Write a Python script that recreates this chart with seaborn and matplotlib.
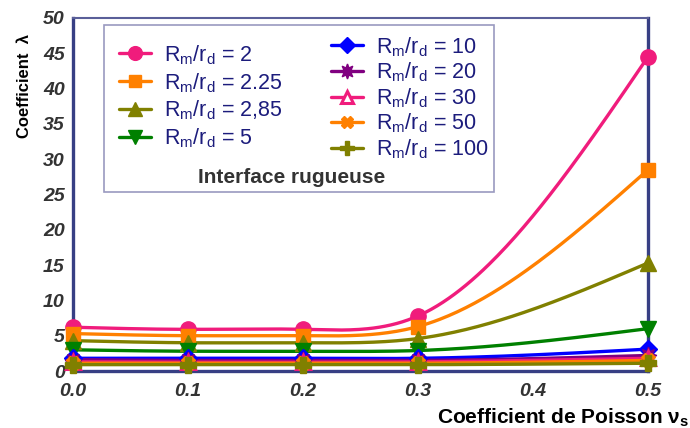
import numpy as np
import pandas as pd
import matplotlib
matplotlib.use("Agg")
import matplotlib.pyplot as plt
from matplotlib.patches import Rectangle
from matplotlib.lines import Line2D
import seaborn as sns

sns.set_theme(style="white")
plt.rcParams['font.family'] = ['Liberation Sans', 'DejaVu Sans']
plt.rcParams['mathtext.fontset'] = 'custom'
plt.rcParams['mathtext.rm'] = 'Liberation Sans'
plt.rcParams['mathtext.it'] = 'Liberation Sans:italic'
plt.rcParams['mathtext.bf'] = 'Liberation Sans:bold'

# ---- data ----
nu = [0.0, 0.1, 0.2, 0.3, 0.5]
ratios = ["2", "2.25", "2,85", "5", "10", "20", "30", "50", "100"]
lam_2 = [6.2, 5.9, 5.9, 7.8, 44.5]
lam_225 = [5.3, 5.0, 5.0, 6.3, 28.5]
lam_285 = [4.3, 4.0, 4.0, 4.6, 15.3]
lam_5 = [3.0, 2.8, 2.8, 2.9, 6.0]
lam_10 = [1.8, 1.8, 1.8, 1.8, 3.1]
lam_20 = [1.6, 1.5, 1.5, 1.5, 2.2]
lam_30 = [1.3, 1.25, 1.25, 1.3, 1.8]
lam_50 = [1.1, 1.1, 1.1, 1.1, 1.5]
lam_100 = [0.9, 0.9, 0.9, 0.9, 1.1]
series = [lam_2, lam_225, lam_285, lam_5, lam_10, lam_20, lam_30, lam_50, lam_100]
x_ticks = [0.0, 0.1, 0.2, 0.3, 0.4, 0.5]
y_ticks = [0, 5, 10, 15, 20, 25, 30, 35, 40, 45, 50]

colors = ["#f01c7c", "#ff8000", "#808000", "#008000", "#0000ff",
          "#800080", "#f01c7c", "#ff8000", "#808000"]
markers = ["o", "s", "^", "v", "D", (8, 1, 0), "^", "X", "P"]
mfc = colors[:6] + ["white", "#ff8000", "#808000"]
msizes = [11, 10, 11, 11, 9, 12, 10, 10, 11]


def natural_spline(x, y, n=200):
    x = np.asarray(x, float); y = np.asarray(y, float)
    k = len(x); h = np.diff(x)
    A = np.zeros((k, k)); b = np.zeros(k)
    A[0, 0] = A[-1, -1] = 1
    for i in range(1, k - 1):
        A[i, i - 1] = h[i - 1]; A[i, i] = 2 * (h[i - 1] + h[i]); A[i, i + 1] = h[i]
        b[i] = 3 * ((y[i + 1] - y[i]) / h[i] - (y[i] - y[i - 1]) / h[i - 1])
    c = np.linalg.solve(A, b)
    xs = np.linspace(x[0], x[-1], n); ys = np.empty_like(xs)
    for j, xv in enumerate(xs):
        i = min(np.searchsorted(x, xv, side='right') - 1, k - 2)
        bi = (y[i + 1] - y[i]) / h[i] - h[i] * (2 * c[i] + c[i + 1]) / 3
        di = (c[i + 1] - c[i]) / (3 * h[i])
        t = xv - x[i]
        ys[j] = y[i] + bi * t + c[i] * t ** 2 + di * t ** 3
    return xs, ys


fig = plt.figure(figsize=(6.9, 4.28), dpi=100)
ax = fig.add_axes([73 / 690, 1 - 371 / 428, 575 / 690, 353 / 428])

handles = []
for i, ys in enumerate(series):
    xs_s, ys_s = natural_spline(nu, ys)
    sns.lineplot(x=xs_s, y=ys_s, color=colors[i], linewidth=2.4, ax=ax,
                 zorder=3, clip_on=False)
    ew = 2.2 if mfc[i] == "white" else 1
    ax.plot(nu, ys, linestyle='none', marker=markers[i], markersize=msizes[i],
            markerfacecolor=mfc[i], markeredgecolor=colors[i],
            markeredgewidth=ew, zorder=4, clip_on=False)
    handles.append(Line2D([0], [0], color=colors[i], linewidth=2.4, marker=markers[i],
                          markersize=msizes[i] * 0.9, markerfacecolor=mfc[i],
                          markeredgecolor=colors[i], markeredgewidth=ew))

labels = [r"R$_\mathrm{m}$/r$_\mathrm{d}$ = " + r for r in ratios]

ax.set_xlim(0, 0.5)
ax.set_ylim(0, 50)
ax.set_xticks(x_ticks)
ax.set_xticklabels([f"{v:.1f}" for v in x_ticks])
ax.set_yticks(y_ticks)
ax.set_yticklabels([str(v) for v in y_ticks])

navy = "#373f84"
for s in ["left", "right", "bottom"]:
    ax.spines[s].set_color(navy); ax.spines[s].set_linewidth(2.4)
ax.spines["top"].set_color("#5a5f99"); ax.spines["top"].set_linewidth(1.5)
ax.tick_params(axis='both', direction='out', length=5, width=2, color=navy,
               labelsize=14, labelcolor="#333333")
ax.tick_params(axis='x', pad=4)
ax.tick_params(axis='y', pad=1)
for lab in ax.get_xticklabels() + ax.get_yticklabels():
    lab.set_fontweight('bold'); lab.set_fontstyle('italic')

fig.text(25 / 690, 1 - 86 / 428, "Coefficient  λ", rotation=90, ha='center',
         va='center', fontsize=12, fontweight='bold', color='black')
fig.text(689 / 690, 1 - 418 / 428, r"Coefficient de Poisson ν$_\mathbf{s}$",
         ha='right', va='center', fontsize=15, fontweight='bold', color='black')

# legend box
x0, x1 = (104 - 73) / 575, (494 - 73) / 575
y0, y1 = (371 - 192) / 353, (371 - 25) / 353
ax.add_patch(Rectangle((x0, y0), x1 - x0, y1 - y0, transform=ax.transAxes,
                       facecolor='white', edgecolor='#9a9ac0', linewidth=1.2, zorder=5))
common = dict(loc='upper left', frameon=False, fontsize=15.5, labelcolor="#1c1c7c",
              handlelength=1.5, handletextpad=0.6, borderpad=0, borderaxespad=0)
leg = ax.legend(handles[:4], labels[:4],
                bbox_to_anchor=((119 - 73) / 575, (371 - 43) / 353),
                labelspacing=0.2, **common)
leg.set_zorder(6)
ax.add_artist(leg)
leg2 = ax.legend(handles[4:], labels[4:],
                 bbox_to_anchor=((331 - 73) / 575, (371 - 35) / 353),
                 labelspacing=0.09, **common)
leg2.set_zorder(6)
ax.text((292 - 73) / 575, (371 - 178) / 353, "Interface rugueuse",
        transform=ax.transAxes, ha='center', va='center', fontsize=15,
        fontweight='bold', color="#333333", zorder=7)

fig.savefig("out.png", dpi=100)
